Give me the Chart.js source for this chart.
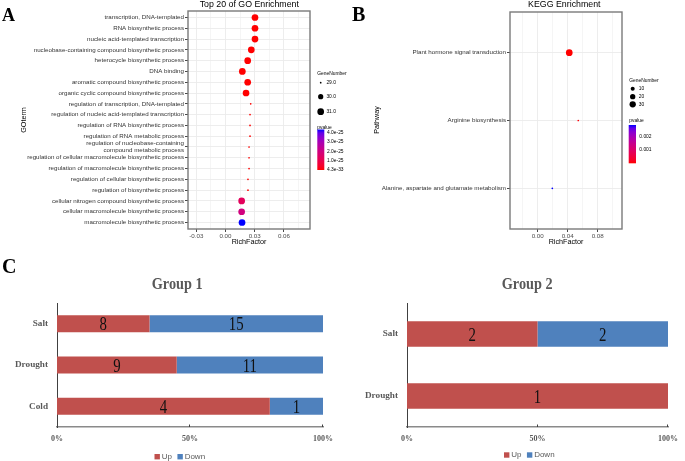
<!DOCTYPE html>
<html>
<head>
<meta charset="utf-8">
<title>GO / KEGG enrichment and stress groups</title>
<script src="https://cdn.jsdelivr.net/npm/chart.js@4.4.1/dist/chart.umd.min.js"></script>
<style>
  html, body { margin: 0; padding: 0; background: #fff; }
  #wrap { position: relative; width: 685px; height: 461px; overflow: hidden; }
  #wrap canvas { position: absolute; }
</style>
</head>
<body>
<div id="wrap">
  <canvas id="goChart" style="left:0;top:0" width="360" height="250"></canvas>
  <canvas id="keggChart" style="left:340px;top:0" width="345" height="250"></canvas>
  <canvas id="group1Chart" style="left:0;top:250px" width="340" height="211"></canvas>
  <canvas id="group2Chart" style="left:340px;top:250px" width="345" height="211"></canvas>
</div>
<script>
// ---- data ----
const goTerms = [
  'transcription, DNA-templated',
  'RNA biosynthetic process',
  'nucleic acid-templated transcription',
  'nucleobase-containing compound biosynthetic process',
  'heterocycle biosynthetic process',
  'DNA binding',
  'aromatic compound biosynthetic process',
  'organic cyclic compound biosynthetic process',
  'regulation of transcription, DNA-templated',
  'regulation of nucleic acid-templated transcription',
  'regulation of RNA biosynthetic process',
  'regulation of RNA metabolic process',
  'regulation of nucleobase-containing\ncompound metabolic process',
  'regulation of cellular macromolecule biosynthetic process',
  'regulation of macromolecule biosynthetic process',
  'regulation of cellular biosynthetic process',
  'regulation of biosynthetic process',
  'cellular nitrogen compound biosynthetic process',
  'cellular macromolecule biosynthetic process',
  'macromolecule biosynthetic process'
];
const goRichFactor = [0.0303, 0.0303, 0.0303, 0.0265, 0.0228, 0.0173, 0.0228, 0.0211,
  0.0259, 0.0252, 0.0252, 0.0252, 0.0242, 0.0242, 0.0242, 0.0231, 0.0231, 0.0166, 0.0166, 0.0170];
const goGeneNumber = [31, 31, 31, 31, 31, 31, 31, 31, 29, 29, 29, 29, 29, 29, 29, 29, 29, 31, 31, 31];
const goPvalue = [4.3e-33, 4.3e-33, 4.3e-33, 1.2e-32, 3.5e-32, 2.1e-31, 6.0e-32, 1.1e-31,
  2.0e-30, 2.0e-30, 2.0e-30, 2.6e-30, 3.9e-30, 4.8e-30, 5.5e-30, 8.0e-30, 9.1e-30, 1.3e-25, 1.95e-25, 4.35e-25];
const goGridTicks = [-0.03, -0.015, 0, 0.015, 0.03, 0.045, 0.06, 0.075];
const goMajorTicks = [-0.03, 0, 0.03, 0.06];
const goSizeBreaks = [29, 30, 31];
const goPvalueBreaks = [4.0e-25, 3.0e-25, 2.0e-25, 1.0e-25, 4.3e-33];

const keggPathways = ['Plant hormone signal transduction', 'Arginine biosynthesis',
  'Alanine, aspartate and glutamate metabolism'];
const keggRichFactor = [0.0421, 0.0541, 0.0195];
const keggGeneNumber = [35, 3, 3];
const keggPvalue = [1.0e-9, 4.0e-5, 0.0029];
const keggGridTicks = [-0.02, 0, 0.02, 0.04, 0.06, 0.08, 0.10];
const keggMajorTicks = [0, 0.04, 0.08];
const keggSizeBreaks = [10, 20, 30];
const keggPvalueBreaks = [0.002, 0.001];

const group1Conditions = ['Salt', 'Drought', 'Cold'];
const group1Up = [8, 9, 4];
const group1Down = [15, 11, 1];
const group2Conditions = ['Salt', 'Drought'];
const group2Up = [2, 1];
const group2Down = [2, 0];
const pctTicks = [0, 50, 100];

const SANS = '"Liberation Sans", Arial, sans-serif';
const SERIF = '"Liberation Serif", "Times New Roman", serif';
const UP_COLOR = '#C0504D';
const DOWN_COLOR = '#4F81BD';

// ggplot-like red -> blue gradient, interpolated in CIELAB
const RED_LAB = [53.24, 80.09, 67.20];
const BLUE_LAB = [32.30, 79.19, -107.86];
function lab2rgb(L, a, b) {
  let y = (L + 16) / 116, x = a / 500 + y, z = y - b / 200;
  const f = t => t * t * t > 0.008856 ? t * t * t : (t - 16 / 116) / 7.787;
  x = 0.95047 * f(x); y = f(y); z = 1.08883 * f(z);
  const r = x * 3.2406 + y * -1.5372 + z * -0.4986;
  const g = x * -0.9689 + y * 1.8758 + z * 0.0415;
  const bl = x * 0.0557 + y * -0.2040 + z * 1.0570;
  const gam = c => c > 0.0031308 ? 1.055 * Math.pow(c, 1 / 2.4) - 0.055 : 12.92 * c;
  return [r, g, bl].map(c => Math.round(Math.max(0, Math.min(1, gam(c))) * 255));
}
function gradientColor(t) {
  const lab = RED_LAB.map((v, i) => v + (BLUE_LAB[i] - v) * t);
  const [r, g, b] = lab2rgb(...lab);
  return `rgb(${r},${g},${b})`;
}
// area scale like scale_size (range 1..6), turned into a pixel radius
function sizeRadius(v, lo, hi) {
  const s = 1 + 5 * Math.sqrt(Math.max(0, (v - lo) / (hi - lo)));
  return 0.35 + 0.5 * s;
}

function drawText(ctx, str, x, y, o) {
  ctx.save();
  ctx.font = o.font;
  ctx.fillStyle = o.color || '#000';
  ctx.textAlign = o.align || 'left';
  ctx.textBaseline = o.baseline || 'middle';
  ctx.translate(x, y);
  if (o.rotate) ctx.rotate(o.rotate);
  if (o.scaleX) ctx.scale(o.scaleX, 1);
  ctx.fillText(str, 0, 0);
  ctx.restore();
}

// ---- dot plots (panels A and B) ----
function makeDotChart(id, d) {
  const canvas = document.getElementById(id);
  const pLo = Math.min(...d.pvalue), pHi = Math.max(...d.pvalue);
  const gLo = Math.min(...d.genes), gHi = Math.max(...d.genes);
  const isMajor = v => d.majorTicks.some(m => Math.abs(m - v) < 1e-9);

  const extras = {
    id: id + 'Extras',
    afterDraw(chart) {
      const ctx = chart.ctx, a = chart.chartArea, L = d.legend;
      ctx.save();
      ctx.strokeStyle = '#7a7a7a';
      ctx.lineWidth = 1.4;
      ctx.strokeRect(a.left, a.top, a.right - a.left, a.bottom - a.top);
      ctx.restore();

      drawText(ctx, d.title, d.titleX, 4.8, { font: `8.8px ${SANS}`, align: 'center' });
      drawText(ctx, 'RichFactor', (a.left + a.right) / 2, 242, { font: `7.2px ${SANS}`, align: 'center' });
      drawText(ctx, d.yTitle, d.yTitleX, 120, { font: `7.2px ${SANS}`, align: 'center', rotate: -Math.PI / 2 });
      drawText(ctx, d.letter, d.letterX, d.letterY, { font: `bold ${d.letterSize}px ${SERIF}`, baseline: 'alphabetic' });

      // size legend
      const lf = `4.9px ${SANS}`;
      drawText(ctx, 'GeneNumber', L.x, L.titleY, { font: lf });
      d.sizeBreaks.forEach((v, i) => {
        ctx.beginPath();
        ctx.arc(L.dotX, L.dotY[i], sizeRadius(v, gLo, gHi), 0, Math.PI * 2);
        ctx.fillStyle = '#000';
        ctx.fill();
        drawText(ctx, d.sizeLabel(v), L.labelX, L.dotY[i], { font: lf });
      });

      // colour bar
      drawText(ctx, 'pvalue', L.x, L.pTitleY, { font: lf });
      const g = ctx.createLinearGradient(0, L.barY + L.barH, 0, L.barY);
      for (let i = 0; i <= 12; i++) g.addColorStop(i / 12, gradientColor(i / 12));
      ctx.fillStyle = g;
      ctx.fillRect(L.barX, L.barY, L.barW, L.barH);
      d.pBreaks.forEach(v => {
        const y = L.barY + L.barH - (v - pLo) / (pHi - pLo) * L.barH;
        drawText(ctx, d.pLabel(v), L.labelX + 0.6, y, { font: lf });
      });
    }
  };

  return new Chart(canvas, {
    type: 'scatter',
    data: {
      datasets: [{
        data: d.rich.map((x, i) => ({ x, y: i })),
        pointRadius: d.genes.map(v => sizeRadius(v, gLo, gHi)),
        pointHoverRadius: d.genes.map(v => sizeRadius(v, gLo, gHi)),
        pointBackgroundColor: d.pvalue.map(p => gradientColor((p - pLo) / (pHi - pLo))),
        pointBorderWidth: 0
      }]
    },
    options: {
      responsive: false,
      animation: false,
      devicePixelRatio: 1,
      layout: { padding: { left: 0, top: d.area.top, right: canvas.width - d.area.right, bottom: 0 } },
      plugins: { legend: { display: false }, tooltip: { enabled: false } },
      scales: {
        x: {
          type: 'linear',
          min: d.xMin,
          max: d.xMax,
          afterBuildTicks: s => { s.ticks = d.gridTicks.map(v => ({ value: v })); },
          afterFit: s => { s.height = canvas.height - d.area.bottom; },
          ticks: {
            callback: v => isMajor(v) ? v.toFixed(2) : '',
            font: { family: SANS, size: 6.2 },
            color: '#4d4d4d',
            padding: 1,
            maxRotation: 0,
            autoSkip: false
          },
          grid: {
            color: '#ebebeb',
            lineWidth: c => isMajor(c.tick.value) ? 0.9 : 0.5,
            tickLength: 3,
            tickColor: c => isMajor(c.tick.value) ? '#333' : 'rgba(0,0,0,0)'
          },
          border: { display: false }
        },
        y: {
          type: 'linear',
          min: -0.6,
          max: d.labels.length - 0.4,
          reverse: true,
          afterBuildTicks: s => { s.ticks = d.labels.map((_, i) => ({ value: i })); },
          afterFit: s => { s.width = d.area.left; },
          ticks: {
            callback: v => d.labels[v].split('\n'),
            font: { family: SANS, size: 6.2, lineHeight: 1.08 },
            color: '#333',
            padding: 1,
            autoSkip: false
          },
          grid: { color: '#ebebeb', lineWidth: 0.9, tickLength: 3, tickColor: '#333' },
          border: { display: false }
        }
      }
    },
    plugins: [extras]
  });
}

makeDotChart('goChart', {
  labels: goTerms, rich: goRichFactor, genes: goGeneNumber, pvalue: goPvalue,
  gridTicks: goGridTicks, majorTicks: goMajorTicks, xMin: -0.0385, xMax: 0.0868,
  area: { left: 188, top: 11, right: 310, bottom: 229 },
  title: 'Top 20 of GO Enrichment', titleX: 249.3, yTitle: 'GOterm', yTitleX: 24.5,
  letter: 'A', letterX: 2, letterY: 20.7, letterSize: 18,
  sizeBreaks: goSizeBreaks, sizeLabel: v => v.toFixed(1),
  pBreaks: goPvalueBreaks, pLabel: v => v.toExponential(1),
  legend: { x: 317.3, titleY: 73.3, dotX: 320.7, dotY: [82.7, 96.7, 111.7], labelX: 326.4,
    pTitleY: 127.4, barX: 317.3, barY: 129.5, barW: 7, barH: 40.5 }
});

makeDotChart('keggChart', {
  labels: keggPathways, rich: keggRichFactor, genes: keggGeneNumber, pvalue: keggPvalue,
  gridTicks: keggGridTicks, majorTicks: keggMajorTicks, xMin: -0.0369, xMax: 0.1124,
  area: { left: 170, top: 12, right: 282, bottom: 229 },
  title: 'KEGG Enrichment', titleX: 224.3, yTitle: 'Pathway', yTitleX: 36.7,
  letter: 'B', letterX: 12, letterY: 20.5, letterSize: 20,
  sizeBreaks: keggSizeBreaks, sizeLabel: v => String(v),
  pBreaks: keggPvalueBreaks, pLabel: v => v.toFixed(3),
  legend: { x: 289.3, titleY: 80.7, dotX: 292.7, dotY: [88.7, 96.7, 104.3], labelX: 298.7,
    pTitleY: 120.3, barX: 288.7, barY: 125, barW: 7.3, barH: 38.3 }
});

// ---- stacked percentage bars (panel C) ----
function makeBarChart(id, conditions, up, down, o) {
  const canvas = document.getElementById(id);
  const total = up.map((u, i) => u + down[i]);

  const extras = {
    id: id + 'Extras',
    afterDraw(chart) {
      const ctx = chart.ctx, a = chart.chartArea;
      drawText(ctx, o.title, o.titleX, 38.5, { font: `bold 17px ${SERIF}`, color: '#595959',
        align: 'center', baseline: 'alphabetic', scaleX: 0.84 });
      if (o.letter) {
        drawText(ctx, o.letter, 2, 23, { font: `bold 20px ${SERIF}`, baseline: 'alphabetic' });
      }
      // small inside tick marks on the value axis
      const xs = chart.scales.x;
      ctx.save();
      ctx.strokeStyle = '#404040';
      ctx.lineWidth = 1;
      pctTicks.slice(1).forEach(v => {
        const x = Math.round(xs.getPixelForValue(v)) - 0.5;
        ctx.beginPath();
        ctx.moveTo(x, a.bottom - 2.5);
        ctx.lineTo(x, a.bottom);
        ctx.stroke();
      });
      ctx.restore();
      // count labels in the middle of each segment
      chart.data.datasets.forEach((ds, di) => {
        chart.getDatasetMeta(di).data.forEach((bar, i) => {
          if (!ds.counts[i]) return;
          drawText(ctx, String(ds.counts[i]), (bar.x + bar.base) / 2, bar.y + 6.6,
            { font: `19px ${SERIF}`, color: '#111', align: 'center', baseline: 'alphabetic', scaleX: 0.78 });
        });
      });
      // legend
      let x = o.legendX;
      const y = o.legendY;
      ctx.save();
      ctx.font = `8px ${SANS}`;
      chart.data.datasets.forEach(ds => {
        ctx.fillStyle = ds.backgroundColor;
        ctx.fillRect(x, y - 2.7, 5.4, 5.4);
        x += 7.2;
        drawText(ctx, ds.label, x, y, { font: `8px ${SANS}`, color: '#595959' });
        x += ctx.measureText(ds.label).width + 5.5;
      });
      ctx.restore();
    }
  };

  return new Chart(canvas, {
    type: 'bar',
    data: {
      labels: conditions,
      datasets: [
        { label: 'Up', data: up.map((u, i) => u / total[i] * 100), counts: up, backgroundColor: UP_COLOR },
        { label: 'Down', data: down.map((v, i) => v / total[i] * 100), counts: down, backgroundColor: DOWN_COLOR }
      ]
    },
    options: {
      indexAxis: 'y',
      responsive: false,
      animation: false,
      devicePixelRatio: 1,
      barPercentage: 0.41,
      categoryPercentage: 1,
      layout: { padding: { left: 0, top: o.area.top, right: canvas.width - o.area.right, bottom: 0 } },
      plugins: { legend: { display: false }, tooltip: { enabled: false } },
      scales: {
        x: {
          stacked: true,
          min: 0,
          max: 100,
          afterBuildTicks: s => { s.ticks = pctTicks.map(v => ({ value: v })); },
          afterFit: s => { s.height = canvas.height - o.area.bottom; },
          ticks: {
            callback: v => v + '%',
            font: { family: SERIF, size: 8, weight: 'bold' },
            color: '#595959',
            padding: 7,
            maxRotation: 0
          },
          grid: { display: false, drawTicks: false },
          border: { display: true, color: '#8a8a8a', width: 1.6 }
        },
        y: {
          stacked: true,
          afterFit: s => { s.width = o.area.left; },
          ticks: {
            font: { family: SERIF, size: 9.2, weight: 'bold' },
            color: '#595959',
            padding: 9
          },
          grid: { display: false, drawTicks: false },
          border: { display: true, color: '#404040', width: 1 }
        }
      }
    },
    plugins: [extras]
  });
}

makeBarChart('group1Chart', group1Conditions, group1Up, group1Down, {
  title: 'Group 1', titleX: 177.2, letter: 'C',
  area: { left: 57, top: 53, right: 326, bottom: 177 },
  legendX: 154.5, legendY: 206.7
});

makeBarChart('group2Chart', group2Conditions, group2Up, group2Down, {
  title: 'Group 2', titleX: 187.2,
  area: { left: 67, top: 53, right: 335, bottom: 177 },
  legendX: 164, legendY: 205
});
</script>
</body>
</html>
